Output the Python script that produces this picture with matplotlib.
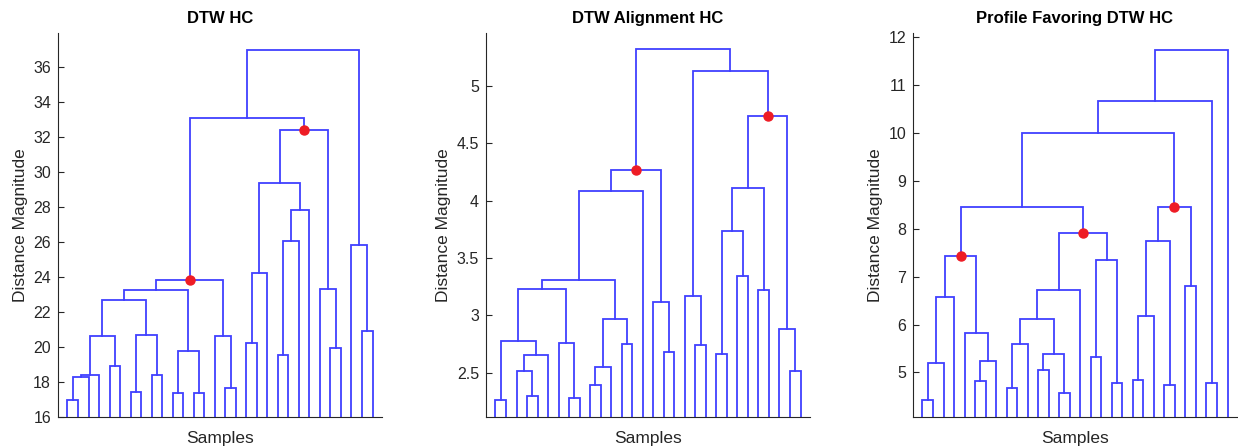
import matplotlib
matplotlib.use("Agg")
import matplotlib.pyplot as plt

plt.rcParams['font.family'] = ['Liberation Sans', 'DejaVu Sans']

n_leaves = 30

# linkage rows: (left node, right node, merge height); leaves are 0..29,
# the k-th merge creates node 30 + k
dtw_merges = [
    (0, 1, 16.95), (30, 2, 18.29), (31, 3, 18.42), (4, 5, 18.90), (32, 33, 20.63),
    (6, 7, 17.41), (8, 9, 18.38), (35, 36, 20.70), (34, 37, 22.69), (10, 11, 17.35),
    (12, 13, 17.39), (39, 40, 19.75), (38, 41, 23.24), (15, 16, 17.68), (14, 43, 20.61),
    (42, 44, 23.85), (17, 18, 20.23), (46, 19, 24.25), (20, 21, 19.52), (48, 22, 26.04),
    (49, 23, 27.85), (47, 50, 29.37), (25, 26, 19.96), (24, 52, 23.33), (51, 53, 32.38),
    (28, 29, 20.90), (27, 55, 25.81), (45, 54, 33.10), (57, 56, 36.95),
]
dtw_marked = [15, 24]

align_merges = [
    (0, 1, 2.258), (3, 4, 2.293), (2, 31, 2.512), (32, 5, 2.654), (30, 33, 2.779),
    (7, 8, 2.279), (6, 35, 2.759), (34, 36, 3.230), (9, 10, 2.395), (38, 11, 2.547),
    (12, 13, 2.750), (39, 40, 2.966), (37, 41, 3.306), (42, 14, 4.080), (16, 17, 2.678),
    (15, 44, 3.117), (43, 45, 4.270), (19, 20, 2.739), (18, 47, 3.172), (21, 22, 2.660),
    (23, 24, 3.338), (49, 50, 3.734), (25, 26, 3.216), (51, 52, 4.106), (28, 29, 2.512),
    (27, 54, 2.881), (53, 55, 4.735), (48, 56, 5.131), (46, 57, 5.320),
]
align_marked = [16, 26]

profile_merges = [
    (0, 1, 4.42), (30, 2, 5.195), (31, 3, 6.58), (5, 6, 4.826), (33, 7, 5.25),
    (4, 34, 5.816), (32, 35, 7.427), (8, 9, 4.672), (37, 10, 5.60), (11, 12, 5.05),
    (13, 14, 4.58), (39, 40, 5.377), (38, 41, 6.116), (42, 15, 6.715), (16, 17, 5.32),
    (18, 19, 4.78), (44, 45, 7.35), (43, 46, 7.92), (36, 47, 8.459), (20, 21, 4.85),
    (49, 22, 6.186), (23, 24, 4.735), (50, 51, 7.74), (25, 26, 6.806), (52, 53, 8.459),
    (48, 54, 10.007), (27, 28, 4.79), (55, 56, 10.676), (57, 29, 11.74),
]
profile_marked = [6, 17, 24]

titles = ["DTW HC", "DTW Alignment HC", "Profile Favoring DTW HC"]
ylims = [(16, 37.94), (2.113, 5.46), (4.07, 12.09)]
yticks = [list(range(16, 37, 2)), [2.5, 3, 3.5, 4, 4.5, 5], list(range(5, 13))]
ytick_labels = [[str(t) for t in yticks[0]],
                ["2.5", "3", "3.5", "4", "4.5", "5"],
                [str(t) for t in yticks[2]]]

line_color = (0.25, 0.25, 1.0)
text_color = (0.15, 0.15, 0.15)


def draw_dendrogram(ax, merges, marked):
    xs = list(range(1, n_leaves + 1))
    hs = [0.0] * n_leaves
    for k, (a, b, h) in enumerate(merges):
        ax.plot([xs[a], xs[a], xs[b], xs[b]], [hs[a], h, h, hs[b]],
                color=line_color, lw=1.3, solid_joinstyle='miter')
        xs.append((xs[a] + xs[b]) / 2)
        hs.append(h)
    for k in marked:
        node = n_leaves + k
        ax.plot(xs[node], hs[node], 'o', color='#ee1c25', ms=6.5, zorder=5)


fig = plt.figure(figsize=(12.38, 4.48), dpi=100)
lefts = [58, 486, 913]
all_merges = [dtw_merges, align_merges, profile_merges]
all_marked = [dtw_marked, align_marked, profile_marked]

for i in range(3):
    ax = fig.add_axes([lefts[i] / 1238, 31 / 448, 324 / 1238, 384 / 448])
    draw_dendrogram(ax, all_merges[i], all_marked[i])
    ax.set_xlim(0.1, 30.9)
    ax.set_ylim(*ylims[i])
    ax.set_yticks(yticks[i])
    ax.set_yticklabels(ytick_labels[i])
    ax.set_xticks([])
    ax.spines['top'].set_visible(False)
    ax.spines['right'].set_visible(False)
    for s in ('left', 'bottom'):
        ax.spines[s].set_color(text_color)
        ax.spines[s].set_linewidth(0.8)
    ax.tick_params(axis='y', direction='in', length=4, width=0.8,
                   colors=text_color, labelsize=11.5, pad=5)
    ax.set_title(titles[i], fontsize=12, fontweight='bold', pad=7)
    ax.set_xlabel("Samples", fontsize=12.5, color=text_color, labelpad=10)
    ax.set_ylabel("Distance Magnitude", fontsize=12.5, color=text_color, labelpad=4)

fig.savefig("out.png", dpi=100)
